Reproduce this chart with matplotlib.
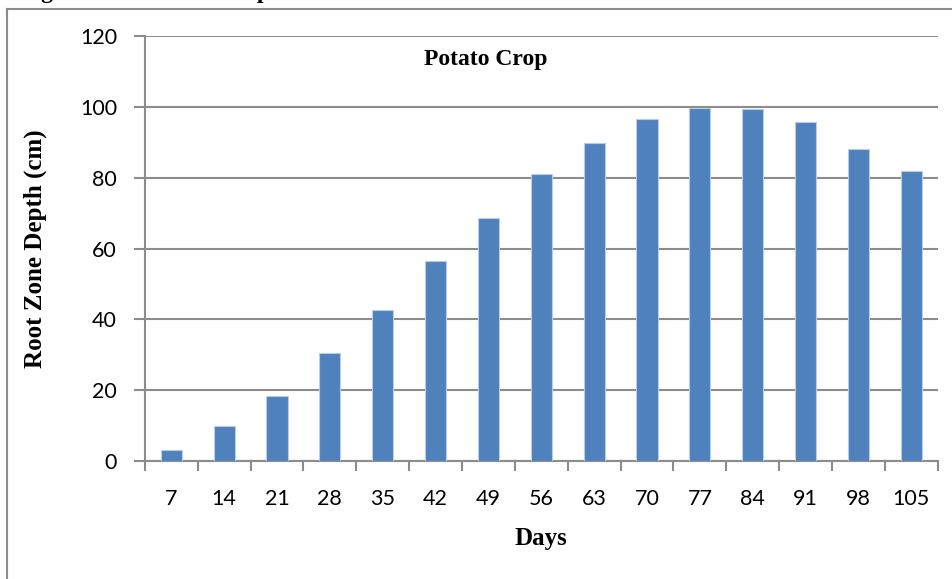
import matplotlib.pyplot as plt
from matplotlib.lines import Line2D
import numpy as np

# data
days = [7, 14, 21, 28, 35, 42, 49, 56, 63, 70, 77, 84, 91, 98, 105]
depth = [3.1, 9.9, 18.4, 30.5, 42.5, 56.6, 68.6, 81.0, 89.8, 96.7, 99.7, 99.3, 95.7, 88.2, 82.0]
y_ticks = [0, 20, 40, 60, 80, 100, 120]

fig = plt.figure(figsize=(9.53, 5.79), dpi=100)
ax = fig.add_axes([0.152, 0.2038, 0.832, 0.734])

x = np.arange(len(days))
ax.bar(x, depth, width=0.4, color='#4f81bd', edgecolor='#b9cde5', linewidth=0.8, zorder=3)

ax.set_xlim(-0.5, len(days) - 0.5)
ax.set_ylim(0, 120)
ax.set_yticks(y_ticks)
ax.set_xticks(x)
ax.set_xticklabels([str(d) for d in days])
ax.set_xticks(np.arange(-0.5, len(days)), minor=True)

grey = '#8c8c8c'
ax.grid(axis='y', color=grey, linewidth=1.5, zorder=0)
for s in ['top', 'right']:
    ax.spines[s].set_visible(False)
for s in ['left', 'bottom']:
    ax.spines[s].set_color(grey)
    ax.spines[s].set_linewidth(1.5)

ax.tick_params(axis='y', direction='out', length=8, width=1.5, color=grey,
               labelsize=15.5, pad=12)
ax.tick_params(axis='x', which='major', length=0, labelsize=15.5, pad=20)
ax.tick_params(axis='x', which='minor', direction='out', length=7, width=1.5, color=grey)
for lbl in ax.get_xticklabels() + ax.get_yticklabels():
    lbl.set_fontfamily('Lato')

ax.set_xlabel('Days', fontfamily='Liberation Serif', fontweight='bold', fontsize=18, labelpad=13)
ax.set_ylabel('Root Zone Depth (cm)', fontfamily='Liberation Serif', fontweight='bold',
              fontsize=18, labelpad=24)
ax.text(0.43, 0.945, 'Potato Crop', transform=ax.transAxes, ha='center', va='center',
        fontfamily='Liberation Serif', fontweight='bold', fontsize=17)

# outer chart border (cut off at right and bottom) and clipped caption above it
fig.add_artist(Line2D([7.5 / 953, 7.5 / 953], [0, 1 - 8.5 / 579], color=grey, linewidth=1.5))
fig.add_artist(Line2D([7.5 / 953, 1], [1 - 8.5 / 579, 1 - 8.5 / 579], color=grey, linewidth=1.5))
fig.text(20 / 953, 1 + 2 / 579, 'Figure 3: Root Zone Depth', ha='left', va='baseline',
         fontfamily='Liberation Serif', fontweight='bold', fontsize=17)

fig.savefig('out.png', dpi=100)
